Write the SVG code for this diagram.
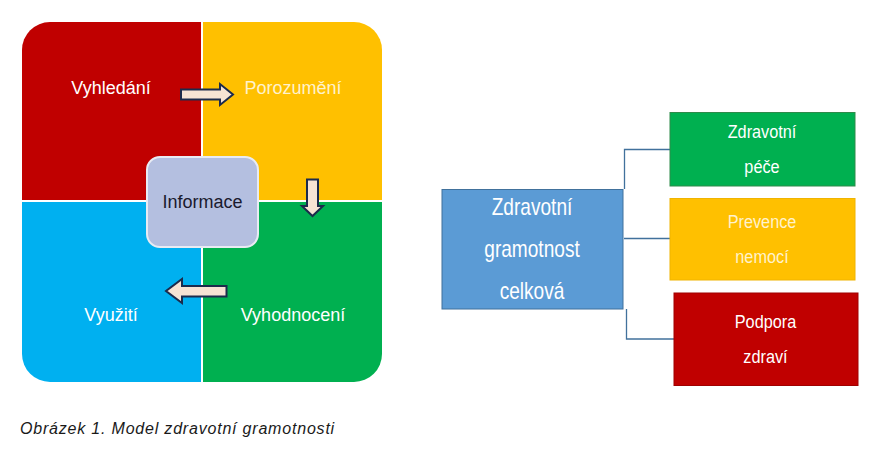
<svg xmlns="http://www.w3.org/2000/svg" width="880" height="449" viewBox="0 0 880 449">
<style>
.lbl{font-family:"Liberation Sans",Arial,sans-serif;font-size:18px;text-anchor:middle;fill:#fff}
.pale{fill:#fff2cc}
.rt{font-family:"Liberation Sans",Arial,sans-serif;text-anchor:middle;fill:#fff}
.arr{fill:#f6e3d4;stroke:#1c2b4c;stroke-width:2;stroke-linejoin:miter}
.conn{fill:none;stroke:#41719c;stroke-width:1.3}
</style>
<defs>
<clipPath id="sq"><rect x="22" y="22" width="360" height="360" rx="28"/></clipPath>
</defs>
<rect width="880" height="449" fill="#fff"/>
<g id="model">
<g clip-path="url(#sq)">
<rect id="q-vyhledani" x="22" y="22" width="179" height="178" fill="#c00000"/>
<rect id="q-porozumeni" x="203" y="22" width="179" height="178" fill="#ffc000"/>
<rect id="q-vyuziti" x="22" y="202" width="179" height="180" fill="#00b0f0"/>
<rect id="q-vyhodnoceni" x="203" y="202" width="179" height="180" fill="#00b050"/>
</g>
<text class="lbl" x="111" y="94">Vyhledání</text>
<text class="lbl pale" x="293" y="94">Porozumění</text>
<text class="lbl" x="111" y="321">Využití</text>
<text class="lbl" x="293" y="321">Vyhodnocení</text>
<g id="informace">
<rect x="147" y="157" width="111" height="90" rx="13" fill="#b4bfe0" stroke="#e8ebf3" stroke-width="2"/>
<text x="202.5" y="208" font-family="'Liberation Sans',Arial,sans-serif" font-size="18" text-anchor="middle" fill="#1a1a2e">Informace</text>
</g>
<g id="arrows">
<path class="arr" d="M181,89.5 H220 V84 L233,94.5 L220,105 V99.5 H181 Z"/>
<path class="arr" d="M307,179.5 H318 V206 H323 L312.5,216 L302,206 H307 Z"/>
<path class="arr" d="M226.5,286 H182 V279 L166,291 L182,303 V296.5 H226.5 Z"/>
</g>
</g>
<g id="connectors">
<path class="conn" d="M670,149.5 H624.5 V189"/>
<path class="conn" d="M670,238.5 H624"/>
<path class="conn" d="M674,339 H626.5 V309"/>
</g>
<g id="celkova">
<rect x="442" y="189.5" width="181" height="119.5" fill="#5b9bd5" stroke="#41719c" stroke-width="1"/>
<g class="rt" font-size="23">
<text transform="translate(532,215) scale(0.83,1)">Zdravotní</text>
<text transform="translate(532,257) scale(0.83,1)">gramotnost</text>
<text transform="translate(532,299) scale(0.83,1)">celková</text>
</g>
</g>
<g id="pece">
<rect x="670" y="112.5" width="185" height="73.5" fill="#00b050" stroke="#2e8b4a" stroke-width="1"/>
<g class="rt" font-size="18.5">
<text transform="translate(762,138) scale(0.88,1)">Zdravotní</text>
<text transform="translate(762,173) scale(0.88,1)">péče</text>
</g>
</g>
<g id="prevence">
<rect x="670" y="198.5" width="185" height="81.5" fill="#ffc000" stroke="#f0b400" stroke-width="1"/>
<g class="rt pale" font-size="18.5">
<text class="pale" transform="translate(762,228) scale(0.88,1)">Prevence</text>
<text class="pale" transform="translate(762,263) scale(0.88,1)">nemocí</text>
</g>
</g>
<g id="podpora">
<rect x="674" y="293" width="184" height="92.5" fill="#c00000" stroke="#a00000" stroke-width="1"/>
<g class="rt" font-size="18.5">
<text transform="translate(765.5,328) scale(0.88,1)">Podpora</text>
<text transform="translate(765.5,363) scale(0.88,1)">zdraví</text>
</g>
</g>
<text id="caption" x="20" y="434" font-family="'Liberation Sans',Arial,sans-serif" font-size="16" font-style="italic" letter-spacing="0.8" fill="#1a1a1a">Obrázek 1. Model zdravotní gramotnosti</text>
</svg>
